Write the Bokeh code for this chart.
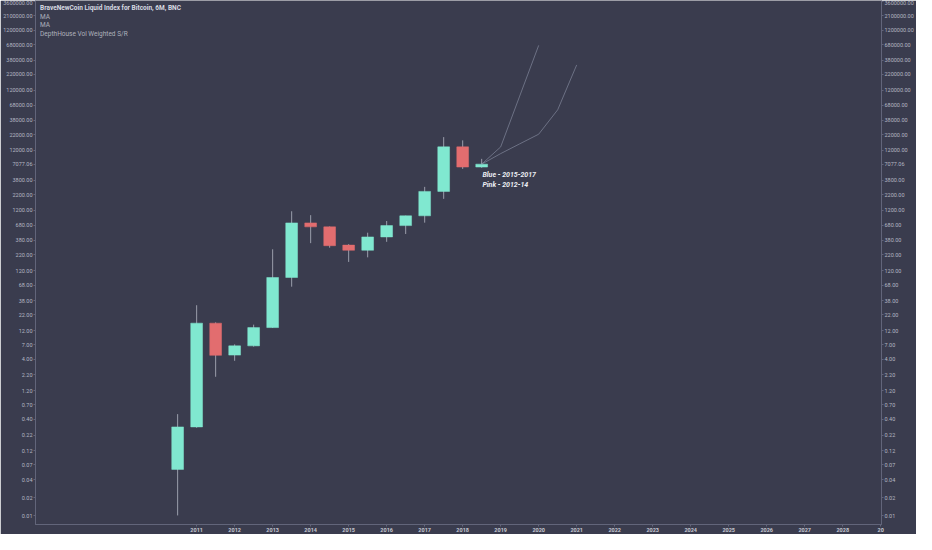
from bokeh.plotting import figure
from bokeh.models import LogAxis, FixedTicker, PrintfTickFormatter, Label, ColumnDataSource, Range1d
from bokeh.embed import file_html
from bokeh.resources import INLINE

# ---- data (6M candles, BraveNewCoin Liquid Index for Bitcoin) ----
candle_start = [2010.5, 2011.0, 2011.5, 2012.0, 2012.5, 2013.0, 2013.5, 2014.0, 2014.5,
                2015.0, 2015.5, 2016.0, 2016.5, 2017.0, 2017.5, 2018.0, 2018.5]
open_ = [0.059, 0.30, 16.0, 4.7, 6.7, 13.5, 92, 745, 640, 318, 261, 435, 672, 977, 2490, 13720, 6330]
high_ = [0.49, 31.8, 16.5, 7.1, 15.1, 271, 1164, 1002, 650, 330, 512, 801, 985, 2963, 19940, 17600, 8670]
low_ = [0.0101, 0.29, 2.05, 3.78, 6.5, 13.3, 64.7, 343, 288, 167, 199, 361, 487, 752, 1872, 5900, 6150]
close_ = [0.30, 16.0, 4.66, 6.7, 13.5, 92, 745, 640, 311, 261, 435, 672, 977, 2490, 13720, 6330, 7077.06]

# projection (fractal) paths
blue_t = [2018.5, 2019.0, 2019.5, 2020.0, 2020.5, 2021.0]
blue_v = [7077.06, 10600, 15400, 22300, 56800, 317000]
pink_t = [2018.5, 2019.0, 2019.5, 2020.0]
pink_v = [7077.06, 13700, 96000, 670000]

year_ticks = list(range(2011, 2030))
price_ticks = [0.01, 0.02, 0.04, 0.07, 0.12, 0.22, 0.40, 0.70, 1.20, 2.20, 4.00, 7.00,
               12.00, 22.00, 38.00, 68.00, 120.00, 220.00, 380.00, 680.00, 1200.00, 2200.00,
               3800.00, 7077.06, 12000.00, 22000.00, 38000.00, 68000.00, 120000.00, 220000.00,
               380000.00, 680000.00, 1200000.00, 2100000.00, 3600000.00]

legend_lines = ["BraveNewCoin Liquid Index for Bitcoin, 6M, BNC", "MA", "MA", "DepthHouse Vol Weighted S/R"]
notes = ["Blue - 2015-2017", "Pink - 2012-14"]

# ---- styling ----
BG = "#3a3c4e"
UP = "#80e8d0"
DOWN = "#e26d6f"
WICK = "#9a9eab"
AXIS = "#62657a"
LBL = "#b4b7c2"
FONT = "Roboto"
XMIN, XMAX = 2006.76, 2029.02

up = [c >= o for o, c in zip(open_, close_)]
src = ColumnDataSource(dict(
    t=candle_start, o=open_, h=high_, l=low_, c=close_,
    top=[max(o, c) for o, c in zip(open_, close_)],
    bot=[min(o, c) for o, c in zip(open_, close_)],
    col=[UP if u else DOWN for u in up],
))

p = figure(width=916, height=534, y_axis_type="log",
           x_range=Range1d(XMIN, XMAX), y_range=Range1d(0.00714, 3.74e6),
           output_backend="svg", toolbar_location=None,
           background_fill_color=BG, border_fill_color=BG,
           min_border_left=0, min_border_right=0, min_border_top=0, min_border_bottom=0)
p.outline_line_color = None
p.grid.visible = False

p.segment(x0="t", y0="l", x1="t", y1="h", source=src, line_color=WICK, line_width=1)
p.vbar(x="t", width=0.31, top="top", bottom="bot", source=src,
       fill_color="col", line_color="col", line_width=0.5)

p.line(blue_t, blue_v, line_color="#8d94a9", line_width=1, line_alpha=0.6)
p.line(pink_t, pink_v, line_color="#8d94a9", line_width=1, line_alpha=0.6)

# axes
yt = FixedTicker(ticks=price_ticks, minor_ticks=[])
fmt = PrintfTickFormatter(format="%.2f")
p.add_layout(LogAxis(), "right")
for ax in p.yaxis:
    ax.ticker = yt
    ax.formatter = fmt
    ax.axis_line_color = AXIS
    ax.major_tick_line_color = AXIS
    ax.major_tick_out = 2
    ax.major_tick_in = 0
    ax.minor_tick_out = 0
    ax.minor_tick_in = 0
    ax.major_label_standoff = 1
    ax.major_label_text_color = LBL
    ax.major_label_text_font = FONT
    ax.major_label_text_font_size = "5.5px"

xa = p.xaxis[0]
xa.ticker = FixedTicker(ticks=year_ticks, minor_ticks=[])
xa.major_label_overrides = {2029: "20"}
xa.axis_line_color = AXIS
xa.major_tick_line_color = AXIS
xa.major_tick_out = 2
xa.major_tick_in = 0
xa.minor_tick_out = 0
xa.minor_tick_in = 0
xa.major_label_standoff = 1
xa.major_label_text_color = "#c4c7d0"
xa.major_label_text_font = FONT
xa.major_label_text_font_style = "bold"
xa.major_label_text_font_size = "5.5px"

# legend texts (top-left)
leg_y = [2.77e6, 2.0e6, 1.47e6, 1.04e6]
for i, (txt, yy) in enumerate(zip(legend_lines, leg_y)):
    p.add_layout(Label(x=2006.88, y=yy, text=txt, text_align="left", text_baseline="middle",
                       text_color="#d6d9e1" if i == 0 else "#aeb1bc",
                       text_font=FONT, text_font_size="6.5px",
                       text_font_style="bold" if i == 0 else "normal"))

# annotation texts
for txt, yy in zip(notes, [4590, 3230]):
    p.add_layout(Label(x=2018.52, y=yy, text=txt, text_align="left", text_baseline="middle",
                       text_color="#eceef3", text_font=FONT, text_font_size="7px",
                       text_font_style="bold italic"))

open("out.html", "w").write(file_html(p, INLINE))
